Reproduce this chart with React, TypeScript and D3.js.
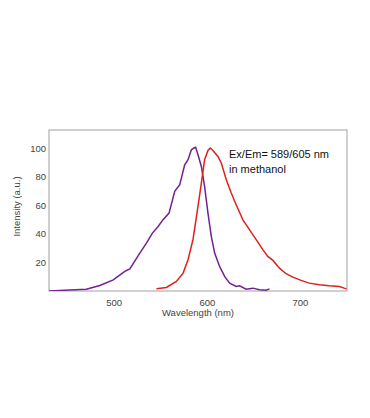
import React, { useEffect, useRef } from 'react';
import * as d3 from 'd3';

// excitation spectrum (purple)
const exWavelength = [430, 470, 484.6, 499, 511.4, 516.8, 527.5, 534.6, 541, 547, 552.5, 558.9, 565, 570.4, 575.7, 579.3, 582.9, 585.7, 587.5, 590, 593.6, 597.1, 600.7, 604.3, 607.9, 613.2, 618.6, 624, 631, 634.6, 641.8, 649, 656, 663, 666.8];
const exIntensity = [0, 1.3, 3.9, 7.8, 13.7, 15.4, 26.5, 33.5, 40.5, 45, 49.9, 54.5, 69.7, 74.3, 88.3, 91.8, 98.8, 100, 100.5, 95.3, 87.1, 73, 54.5, 38.2, 26.5, 17.2, 10.2, 5.5, 3.2, 3.7, 1.3, 2, 0.9, 0.6, 1.5];

// emission spectrum (red)
const emWavelength = [545.4, 556, 566.8, 574, 579.3, 584.6, 590, 593.6, 597.1, 600.7, 603.2, 606, 611.4, 615, 620.4, 625.7, 631, 638.2, 645.4, 652.5, 659.6, 665, 670.4, 677.5, 684.6, 691.8, 700.7, 709.6, 720.4, 731, 741.8, 747, 749.6];
const emIntensity = [1.5, 2.5, 6.7, 12.5, 21.9, 35.9, 59.2, 75.5, 91.8, 98.3, 100, 98.3, 94.1, 89.5, 77.8, 68.5, 60.3, 49.8, 42.8, 35.9, 28.9, 24.2, 21.4, 16, 12.1, 9.7, 7.4, 5.5, 4.4, 3.7, 3.2, 2, 1.5];

const xTicks = [500, 600, 700];
const yTicks = [20, 40, 60, 80, 100];
const noteLines = ['Ex/Em= 589/605 nm', 'in methanol'];

const App = () => {
  const svgRef = useRef<SVGSVGElement>(null);

  useEffect(() => {
    if (!svgRef.current) return;
    const width = 370;
    const height = 418;
    const left = 49, right = 347, top = 130, bottom = 291;
    const font = "'Liberation Sans', Arial, sans-serif";

    d3.select(svgRef.current).selectAll('*').remove();
    const svg = d3.select(svgRef.current)
      .attr('width', width)
      .attr('height', height);

    const x = d3.scaleLinear().domain([430, 750]).range([left, right]);
    const y = d3.scaleLinear().domain([0, 112.6]).range([bottom, top]);

    // frame
    svg.append('rect')
      .attr('x', left)
      .attr('y', top)
      .attr('width', right - left)
      .attr('height', bottom - top)
      .attr('fill', 'none')
      .attr('stroke', '#a0a0a0')
      .attr('stroke-width', 1);

    const clip = svg.append('clipPath').attr('id', 'plot-clip');
    clip.append('rect')
      .attr('x', left)
      .attr('y', top)
      .attr('width', right - left)
      .attr('height', bottom - top);

    const line = d3.line<[number, number]>()
      .x(d => x(d[0]))
      .y(d => y(d[1]))
      .curve(d3.curveLinear);

    const exData = exWavelength.map((w, i) => [w, exIntensity[i]] as [number, number]);
    const emData = emWavelength.map((w, i) => [w, emIntensity[i]] as [number, number]);

    svg.append('path')
      .attr('d', line(exData))
      .attr('fill', 'none')
      .attr('stroke', '#72218f')
      .attr('stroke-width', 1.5)
      .attr('clip-path', 'url(#plot-clip)');

    svg.append('path')
      .attr('d', line(emData))
      .attr('fill', 'none')
      .attr('stroke', '#e0201e')
      .attr('stroke-width', 1.5)
      .attr('clip-path', 'url(#plot-clip)');

    // tick labels
    svg.selectAll('.xtick')
      .data(xTicks)
      .enter()
      .append('text')
      .attr('x', d => x(d))
      .attr('y', 306)
      .attr('text-anchor', 'middle')
      .text(d => d)
      .style('font-family', font)
      .style('font-size', '9.5px')
      .style('fill', '#444');

    svg.selectAll('.ytick')
      .data(yTicks)
      .enter()
      .append('text')
      .attr('x', left - 3)
      .attr('y', d => y(d) + 3.5)
      .attr('text-anchor', 'end')
      .text(d => d)
      .style('font-family', font)
      .style('font-size', '9.5px')
      .style('fill', '#444');

    // axis titles
    svg.append('text')
      .attr('x', 198)
      .attr('y', 316)
      .attr('text-anchor', 'middle')
      .text('Wavelength (nm)')
      .style('font-family', font)
      .style('font-size', '9.5px')
      .style('fill', '#444');

    svg.append('text')
      .attr('transform', `translate(20, ${(top + bottom) / 2 - 4}) rotate(-90)`)
      .attr('text-anchor', 'middle')
      .text('Intensity (a.u.)')
      .style('font-family', font)
      .style('font-size', '9.5px')
      .style('fill', '#444');

    // annotation
    svg.selectAll('.note')
      .data(noteLines)
      .enter()
      .append('text')
      .attr('x', 229)
      .attr('y', (d, i) => 158 + i * 15)
      .text(d => d)
      .style('font-family', font)
      .style('font-size', '11px')
      .style('fill', '#111');
  }, []);

  return <svg ref={svgRef} style={{ position: 'absolute', left: 0, top: 0 }}></svg>;
};

export default App;
